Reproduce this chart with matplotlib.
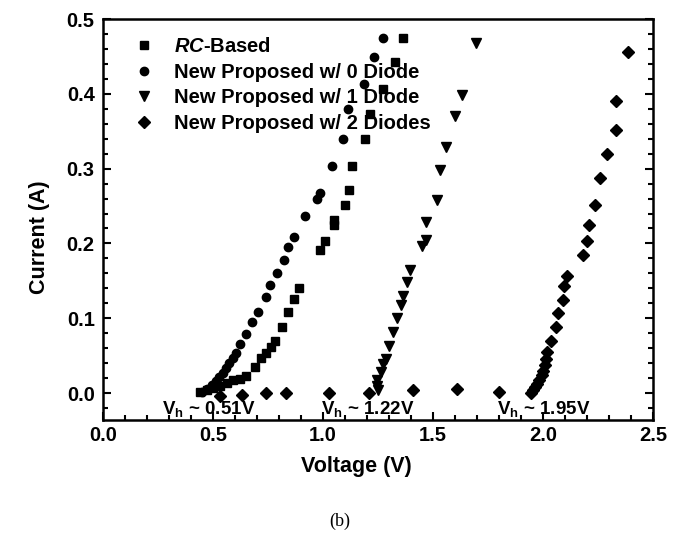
import numpy as np
import matplotlib.pyplot as plt
from matplotlib.ticker import MultipleLocator

plt.rcParams['font.family'] = ['Liberation Sans', 'DejaVu Sans']
plt.rcParams['font.weight'] = 'bold'
plt.rcParams['mathtext.fontset'] = 'custom'
plt.rcParams['mathtext.rm'] = 'Liberation Sans:bold'
plt.rcParams['mathtext.it'] = 'Liberation Sans:bold:italic'
plt.rcParams['mathtext.bf'] = 'Liberation Sans:bold'

# --- data ---
rc_v = [0.441, 0.471, 0.501, 0.532, 0.562, 0.592, 0.623, 0.650, 0.691, 0.717,
        0.741, 0.762, 0.782, 0.812, 0.839, 0.868, 0.892, 0.986, 1.009, 1.050,
        1.050, 1.100, 1.118, 1.133, 1.191, 1.214, 1.274, 1.327, 1.365]
rc_i = [0.001, 0.004, 0.007, 0.010, 0.014, 0.017, 0.019, 0.023, 0.035, 0.047,
        0.054, 0.062, 0.070, 0.088, 0.108, 0.126, 0.141, 0.191, 0.203, 0.225,
        0.231, 0.251, 0.271, 0.304, 0.340, 0.373, 0.406, 0.442, 0.474]

d0_v = [0.449, 0.471, 0.494, 0.514, 0.529, 0.544, 0.559, 0.574, 0.589, 0.605,
        0.623, 0.650, 0.676, 0.706, 0.741, 0.759, 0.790, 0.823, 0.842, 0.868,
        0.918, 0.971, 0.986, 1.039, 1.089, 1.115, 1.188, 1.233, 1.271]
d0_i = [0.001, 0.006, 0.011, 0.016, 0.021, 0.027, 0.034, 0.040, 0.047, 0.054,
        0.065, 0.079, 0.095, 0.108, 0.129, 0.144, 0.160, 0.178, 0.195, 0.208,
        0.237, 0.260, 0.267, 0.304, 0.340, 0.380, 0.413, 0.449, 0.474]

d1_v = [1.251, 1.244, 1.247, 1.262, 1.274, 1.286, 1.301, 1.320, 1.338, 1.353,
        1.365, 1.383, 1.395, 1.449, 1.468, 1.468, 1.517, 1.532, 1.559, 1.600,
        1.633, 1.694]
d1_i = [0.004, 0.010, 0.017, 0.028, 0.039, 0.046, 0.063, 0.082, 0.100, 0.118,
        0.130, 0.149, 0.165, 0.196, 0.205, 0.229, 0.258, 0.298, 0.329, 0.370,
        0.398, 0.468]

d2_v = [0.532, 0.633, 0.739, 0.830, 1.027, 1.210, 1.410, 1.608, 1.800, 1.945,
        1.953, 1.964, 1.971, 1.983, 1.994, 2.000, 2.009, 2.014, 2.020, 2.035,
        2.058, 2.067, 2.092, 2.097, 2.111, 2.183, 2.198, 2.209, 2.236, 2.259,
        2.292, 2.330, 2.332, 2.388]
d2_i = [-0.004, -0.003, 0.000, 0.000, 0.000, 0.000, 0.004, 0.006, 0.001, 0.000,
        0.004, 0.008, 0.012, 0.018, 0.024, 0.030, 0.037, 0.046, 0.055, 0.069,
        0.088, 0.107, 0.124, 0.143, 0.156, 0.185, 0.203, 0.225, 0.252, 0.287,
        0.320, 0.351, 0.390, 0.456]

labels = [r"$\mathit{RC}$-Based", "New Proposed w/ 0 Diode",
          "New Proposed w/ 1 Diode", "New Proposed w/ 2 Diodes"]
vh_text = [r"V$_\mathrm{h}$ ~ 0.51V", r"V$_\mathrm{h}$ ~ 1.22V", r"V$_\mathrm{h}$ ~ 1.95V"]
vh_x = [0.27, 0.99, 1.79]

fig = plt.figure(figsize=(6.87, 5.44), dpi=100)
ax = fig.add_axes([0.150, 0.228, 0.8005, 0.737])

ax.plot(rc_v, rc_i, "s", color="black", ms=5.5, label=labels[0])
ax.plot(d0_v, d0_i, "o", color="black", ms=6, label=labels[1])
ax.plot(d1_v, d1_i, "v", color="black", ms=7, label=labels[2])
ax.plot(d2_v, d2_i, "D", color="black", ms=6, label=labels[3])

for t, xv in zip(vh_text, vh_x):
    ax.text(xv, -0.022, t, fontsize=13.5, fontweight="bold", va="center", ha="left")

ax.set_xlim(0, 2.5)
ax.set_ylim(-0.036, 0.5)
ax.xaxis.set_major_locator(MultipleLocator(0.5))
ax.xaxis.set_minor_locator(MultipleLocator(0.1))
ax.yaxis.set_major_locator(MultipleLocator(0.1))
ax.yaxis.set_minor_locator(MultipleLocator(0.02))
ax.xaxis.set_major_formatter(plt.FormatStrFormatter("%.1f"))
ax.yaxis.set_major_formatter(plt.FormatStrFormatter("%.1f"))
ax.tick_params(which="both", direction="in", top=False, right=True, width=1.5,
               labelsize=14.5)
ax.tick_params(axis="x", pad=4)
ax.tick_params(axis="y", pad=6)
ax.tick_params(which="major", length=6)
ax.tick_params(which="minor", length=3.5)
for s in ax.spines.values():
    s.set_linewidth(1.8)

ax.set_xlabel("Voltage (V)", fontsize=15.5, fontweight="bold")
ax.xaxis.set_label_coords(0.46, -0.09)
ax.set_ylabel("Current (A)", fontsize=15.5, fontweight="bold")
ax.yaxis.set_label_coords(-0.097, 0.455)

ax.legend(loc="upper left", frameon=False, fontsize=14.5, handletextpad=1.0,
          labelspacing=0.33, borderaxespad=0.2, borderpad=0.8, handlelength=1.0,
          bbox_to_anchor=(0.02, 1.005))

fig.text(0.495, 0.025, "(b)", family="Liberation Serif", fontweight="normal",
         fontsize=13, ha="center", va="bottom")

plt.savefig("out.png", dpi=100)
